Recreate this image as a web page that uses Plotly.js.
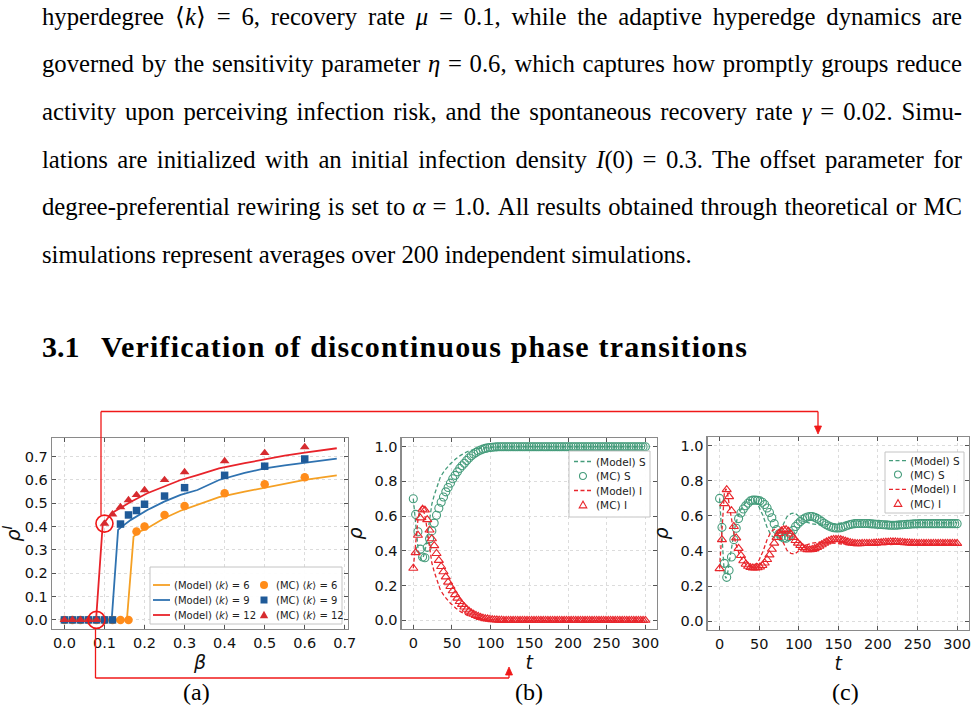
<!DOCTYPE html>
<html><head><meta charset="utf-8">
<script src="https://cdn.plot.ly/plotly-3.0.1.min.js"></script>
<style>
body{margin:0;background:#fff;}
#wrap{position:relative;width:976px;height:714px;overflow:hidden;background:#fff;}
#chart{position:absolute;left:0;top:0;width:976px;height:714px;}
.ln{position:absolute;left:42px;font-family:"Liberation Serif",serif;font-size:22px;line-height:30px;white-space:nowrap;color:#000;}
.hd{position:absolute;font-family:"Liberation Serif",serif;font-weight:bold;font-size:30px;line-height:36px;white-space:nowrap;color:#000;}
</style></head><body>
<div id="wrap">
<div id="chart"></div>
<div class="ln j" style="top:2px"><span>hyperdegree ⟨<i>k</i>⟩ = 6, recovery rate <i>μ</i> = 0.1, while the adaptive hyperedge dynamics are</span></div>
<div class="ln j" style="top:49px"><span>governed by the sensitivity parameter <i>η</i> = 0.6, which captures how promptly groups reduce</span></div>
<div class="ln j" style="top:97px"><span>activity upon perceiving infection risk, and the spontaneous recovery rate <i>γ</i> = 0.02. Simu-</span></div>
<div class="ln j" style="top:145px"><span>lations are initialized with an initial infection density <i>I</i>(0) = 0.3. The offset parameter for</span></div>
<div class="ln j" style="top:192px"><span>degree-preferential rewiring is set to <i>α</i> = 1.0. All results obtained through theoretical or MC</span></div>
<div class="ln" id="lastline" style="top:240px"><span>simulations represent averages over 200 independent simulations.</span></div>
<div class="hd" style="top:329px;left:42px"><span>3.1</span></div>
<div class="hd" id="headtxt" style="top:329px;left:101px"><span>Verification of discontinuous phase transitions</span></div>
</div>
<script>
// ---------- Panel (a) data ----------
const betaModel6  = [0, 0.156, 0.1726, 0.178, 0.19, 0.207, 0.249, 0.29, 0.332, 0.386, 0.45, 0.5, 0.55, 0.6, 0.64, 0.68];
const rhoModel6   = [0, 0, 0.357, 0.364, 0.38, 0.393, 0.436, 0.468, 0.493, 0.526, 0.55, 0.567, 0.584, 0.60, 0.61, 0.62];
const betaModel9  = [0, 0.118, 0.134, 0.141, 0.166, 0.207, 0.249, 0.29, 0.332, 0.386, 0.45, 0.5, 0.55, 0.6, 0.64, 0.68];
const rhoModel9   = [0, 0, 0.386, 0.397, 0.429, 0.471, 0.507, 0.536, 0.557, 0.60, 0.63, 0.65, 0.663, 0.675, 0.683, 0.692];
const betaModel12 = [0, 0.079, 0.0955, 0.108, 0.124, 0.166, 0.207, 0.249, 0.29, 0.332, 0.386, 0.45, 0.5, 0.55, 0.6, 0.64, 0.68];
const rhoModel12  = [0, 0, 0.407, 0.436, 0.464, 0.507, 0.543, 0.571, 0.60, 0.621, 0.65, 0.672, 0.689, 0.704, 0.717, 0.727, 0.736];
const betaMC   = [0, 0.02, 0.04, 0.06, 0.08, 0.1, 0.12, 0.14, 0.16, 0.18, 0.2, 0.25, 0.3, 0.4, 0.5, 0.6];
const rhoMC6   = [0, 0, 0, 0, 0, 0, 0, 0, 0, 0.379, 0.40, 0.45, 0.488, 0.543, 0.582, 0.612];
const rhoMC9   = [0, 0, 0, 0, 0, 0, 0, 0.411, 0.45, 0.469, 0.496, 0.531, 0.567, 0.62, 0.659, 0.69];
const rhoMC12  = [0, 0, 0, 0, 0, 0.413, 0.453, 0.484, 0.514, 0.536, 0.557, 0.60, 0.634, 0.681, 0.716, 0.741];
const highlightBeta = [0.1, 0.08];
const highlightRho  = [0.413, 0];
const legendA = ['(Model) ⟨<i>k</i>⟩ = 6', '(Model) ⟨<i>k</i>⟩ = 9', '(Model) ⟨<i>k</i>⟩ = 12',
                 '(MC) ⟨<i>k</i>⟩ = 6', '(MC) ⟨<i>k</i>⟩ = 9', '(MC) ⟨<i>k</i>⟩ = 12'];
const legendBC = ['(Model) S', '(MC) S', '(Model) I', '(MC) I'];
const captions = ['(a)', '(b)', '(c)'];

// ---------- Time axis of MC samples (panels b, c) ----------
const tMC = [0,3,6,9,12,15,18,21,24,27,30,33,36,39,42,45,48,51,54,57,60,63,66,69,72,75,78,81,84,87,90,93,96,99,
  102,105,108,111,114,117,120,123,126,129,132,135,138,141,144,147,150,153,156,159,162,165,168,171,174,177,180,183,186,189,192,195,198,
  201,204,207,210,213,216,219,222,225,228,231,234,237,240,243,246,249,252,255,258,261,264,267,270,273,276,279,282,285,288,291,294,297,300];

// ---------- Panel (b) data ----------
const sMC_b = [0.70,0.61,0.51,0.41,0.365,0.36,0.42,0.47,0.515,0.56,0.605,0.645,0.68,0.71,0.74,0.765,0.79,0.815,0.835,0.855,
  0.875,0.89,0.905,0.92,0.935,0.948,0.958,0.967,0.975,0.981,0.986,0.99,0.993,0.995,0.997,0.998,0.999,
  1,1,1,1,1,1,1,1,1,1,1,1,1,1,1,1,1,1,1,1,1,1,1,1,1,1,1,1,1,1,1,1,1,1,1,1,1,1,1,1,1,1,1,1,1,1,1,1,1,1,1,1,1,1,1,1,1,1,1,1,1,1,1,1];
const iMC_b = [0.30,0.39,0.49,0.59,0.64,0.635,0.58,0.52,0.47,0.43,0.385,0.345,0.31,0.28,0.25,0.22,0.195,0.17,0.148,0.128,
  0.108,0.092,0.077,0.064,0.053,0.043,0.035,0.028,0.022,0.017,0.013,0.010,0.008,0.006,0.004,0.003,0.002,0.001,0.001,
  0,0,0,0,0,0,0,0,0,0,0,0,0,0,0,0,0,0,0,0,0,0,0,0,0,0,0,0,0,0,0,0,0,0,0,0,0,0,0,0,0,0,0,0,0,0,0,0,0,0,0,0,0,0,0,0,0,0,0,0,0,0];
const tModel_b = [0,2,4,6,8,10,12,14,16,18,20,22,24,27,31,35,40,48,55,61,70,80,90,100,110,120,200,300];
const sModel_b = [0.70,0.60,0.50,0.42,0.37,0.35,0.355,0.38,0.42,0.48,0.55,0.62,0.67,0.72,0.78,0.825,0.86,0.902,0.93,0.95,0.972,0.986,0.993,0.997,0.999,1.0,1.0,1.0];
const iModel_b = [0.30,0.40,0.50,0.58,0.63,0.65,0.645,0.62,0.58,0.52,0.45,0.38,0.33,0.28,0.22,0.175,0.14,0.098,0.07,0.05,0.028,0.014,0.007,0.003,0.001,0,0,0];

// ---------- Panel (c) data ----------
const sMC_c = [0.70,0.535,0.33,0.25,0.29,0.366,0.465,0.53,0.585,0.617,0.64,0.658,0.673,0.686,0.69,0.69,0.689,0.686,0.678,0.665,
  0.645,0.62,0.59,0.556,0.522,0.498,0.482,0.474,0.473,0.482,0.497,0.518,0.54,0.555,0.568,0.58,0.588,0.594,0.597,0.597,
  0.593,0.586,0.578,0.568,0.558,0.55,0.543,0.537,0.533,0.531,0.531,0.533,0.537,0.542,0.547,0.551,0.554,0.556,0.557,0.557,
  0.557,0.557,0.557,0.556,0.555,0.554,0.553,0.552,0.551,0.55,0.549,0.548,0.547,0.547,0.547,0.548,0.549,0.55,0.551,0.552,
  0.553,0.554,0.555,0.555,0.556,0.556,0.556,0.556,0.556,0.556,0.556,0.556,0.556,0.556,0.556,0.556,0.556,0.556,0.556,0.556,0.556];
const iMC_c = [0.30,0.465,0.67,0.75,0.71,0.63,0.54,0.475,0.415,0.375,0.345,0.325,0.313,0.306,0.304,0.304,0.305,0.309,0.318,0.332,
  0.352,0.378,0.41,0.445,0.478,0.50,0.515,0.522,0.522,0.513,0.497,0.478,0.46,0.445,0.432,0.42,0.412,0.408,0.407,0.409,
  0.414,0.42,0.428,0.436,0.445,0.452,0.458,0.463,0.466,0.467,0.467,0.465,0.461,0.457,0.452,0.448,0.445,0.443,0.442,0.442,
  0.443,0.443,0.443,0.443,0.444,0.445,0.446,0.447,0.448,0.449,0.45,0.451,0.452,0.452,0.452,0.451,0.45,0.449,0.448,0.447,
  0.446,0.445,0.445,0.444,0.444,0.444,0.444,0.444,0.444,0.444,0.444,0.444,0.444,0.444,0.444,0.444,0.444,0.444,0.444,0.444,0.444];
const tModel_c = [0,2,4,6,8,10,13,16,20,25,30,35,40,45,50,55,60,65,70,75,80,85,90,95,100,105,110,117,125,134,142,150,160,172,185,200,220,240,260,280,300];
const sModel_c = [0.70,0.55,0.38,0.27,0.245,0.27,0.36,0.45,0.55,0.62,0.66,0.685,0.692,0.68,0.65,0.60,0.535,0.49,0.474,0.50,
  0.55,0.595,0.613,0.617,0.598,0.58,0.565,0.555,0.55,0.549,0.553,0.56,0.566,0.569,0.566,0.563,0.562,0.562,0.562,0.562,0.562];
const iModel_c = [0.30,0.45,0.62,0.73,0.755,0.73,0.64,0.55,0.45,0.38,0.34,0.315,0.308,0.32,0.35,0.40,0.465,0.51,0.526,0.50,
  0.45,0.405,0.387,0.383,0.402,0.42,0.435,0.445,0.45,0.451,0.447,0.44,0.434,0.431,0.434,0.437,0.438,0.438,0.438,0.438,0.438];

// ---------- styles ----------
const W = 976, H = 714;
const px = x => x / W, py = y => 1 - y / H;
const C6L = '#f5a024', C9L = '#2f72b0', C12L = '#e8232a';
const C6M = '#ff8c1a', C9M = '#1f5a98', C12M = '#d62b2f';
const CS = '#459c7b', CI = '#e8262c', RED = '#f01818';
const SANS = 'DejaVu Sans', SERIF = 'Liberation Serif';

const traces = [
  {x: betaModel6, y: rhoModel6, mode: 'lines', line: {color: C6L, width: 1.8}, xaxis: 'x', yaxis: 'y'},
  {x: betaModel9, y: rhoModel9, mode: 'lines', line: {color: C9L, width: 1.8}, xaxis: 'x', yaxis: 'y'},
  {x: betaModel12, y: rhoModel12, mode: 'lines', line: {color: C12L, width: 1.8}, xaxis: 'x', yaxis: 'y'},
  {x: betaMC, y: rhoMC6, mode: 'markers', marker: {symbol: 'circle', size: 8.5, color: C6M}, xaxis: 'x', yaxis: 'y'},
  {x: betaMC, y: rhoMC9, mode: 'markers', marker: {symbol: 'square', size: 7.5, color: C9M}, xaxis: 'x', yaxis: 'y'},
  {x: betaMC, y: rhoMC12, mode: 'markers', marker: {symbol: 'triangle-up', size: 8.5, color: C12M}, xaxis: 'x', yaxis: 'y'},
  {x: highlightBeta, y: highlightRho, mode: 'markers', cliponaxis: false,
   marker: {symbol: 'circle-open', size: 17, color: RED, line: {width: 1.6, color: RED}}, xaxis: 'x', yaxis: 'y'},

  {x: tModel_b, y: sModel_b, mode: 'lines', line: {color: CS, width: 1.3, dash: '4px,2.5px'}, xaxis: 'x2', yaxis: 'y2'},
  {x: tMC, y: sMC_b, mode: 'markers', marker: {symbol: 'circle-open', size: 8, color: CS, line: {width: 1.1, color: CS}}, xaxis: 'x2', yaxis: 'y2'},
  {x: tModel_b, y: iModel_b, mode: 'lines', line: {color: CI, width: 1.3, dash: '4px,2.5px'}, xaxis: 'x2', yaxis: 'y2'},
  {x: tMC, y: iMC_b, mode: 'markers', marker: {symbol: 'triangle-up-open', size: 8, color: CI, line: {width: 1.1, color: CI}}, xaxis: 'x2', yaxis: 'y2'},

  {x: tModel_c, y: sModel_c, mode: 'lines', line: {color: CS, width: 1.3, dash: '4px,2.5px'}, xaxis: 'x3', yaxis: 'y3'},
  {x: tMC, y: sMC_c, mode: 'markers', marker: {symbol: 'circle-open', size: 8, color: CS, line: {width: 1.1, color: CS}}, xaxis: 'x3', yaxis: 'y3'},
  {x: tModel_c, y: iModel_c, mode: 'lines', line: {color: CI, width: 1.3, dash: '4px,2.5px'}, xaxis: 'x3', yaxis: 'y3'},
  {x: tMC, y: iMC_c, mode: 'markers', marker: {symbol: 'triangle-up-open', size: 8, color: CI, line: {width: 1.1, color: CI}}, xaxis: 'x3', yaxis: 'y3'}
];
traces.forEach(t => { t.showlegend = false; t.hoverinfo = 'skip'; });

function axis(extra) {
  return Object.assign({
    showline: true, mirror: 'ticks', linecolor: '#8a8a8a', linewidth: 1.3,
    ticks: 'inside', ticklen: 4, tickwidth: 1, tickcolor: '#555',
    showgrid: true, gridcolor: '#dcdcdc', griddash: 'dot', gridwidth: 1,
    zeroline: false, tickfont: {family: SANS, size: 14.5, color: '#111'}, fixedrange: true
  }, extra);
}
const titleFont = {family: SANS, size: 19, color: '#111'};

const layout = {
  width: W, height: H, margin: {l: 0, r: 0, t: 0, b: 0},
  paper_bgcolor: 'rgba(0,0,0,0)', plot_bgcolor: '#fff', showlegend: false,
  xaxis:  axis({domain: [px(52), px(348)], range: [-0.031, 0.708], dtick: 0.1, tick0: 0, tickformat: '.1f', anchor: 'y',
                title: {text: '<i>β</i>', font: titleFont, standoff: 0}}),
  yaxis:  axis({domain: [py(629), py(438)], range: [-0.039, 0.78], dtick: 0.1, tick0: 0, tickformat: '.1f', anchor: 'x',
                title: {text: '<i>ρ</i><sup><i>I</i></sup>', font: titleFont, standoff: 3}}),
  xaxis2: axis({domain: [px(401.7), px(657)], range: [-15, 315], dtick: 50, tick0: 0, anchor: 'y2',
                title: {text: '<i>t</i>', font: titleFont, standoff: 0}}),
  yaxis2: axis({domain: [py(629), py(438)], range: [-0.05, 1.05], dtick: 0.2, tick0: 0, tickformat: '.1f', anchor: 'x2',
                title: {text: '<i>ρ</i>', font: titleFont, standoff: 6}}),
  xaxis3: axis({domain: [px(707.7), px(969)], range: [-15, 315], dtick: 50, tick0: 0, anchor: 'y3',
                title: {text: '<i>t</i>', font: titleFont, standoff: 0}}),
  yaxis3: axis({domain: [py(630), py(437)], range: [-0.05, 1.05], dtick: 0.2, tick0: 0, tickformat: '.1f', anchor: 'x3',
                title: {text: '<i>ρ</i>', font: titleFont, standoff: 6}}),
  shapes: [], annotations: []
};

// legend helpers (paper coordinates from pixel positions)
function box(x0, y0, x1, y1) {
  layout.shapes.push({type: 'rect', xref: 'paper', yref: 'paper', x0: px(x0), x1: px(x1), y0: py(y1), y1: py(y0),
    fillcolor: 'rgba(255,255,255,0.92)', line: {color: '#c4c4c4', width: 1}, layer: 'above'});
}
function lineGlyph(x0, x1, y, color, dash) {
  layout.shapes.push({type: 'line', xref: 'paper', yref: 'paper', x0: px(x0), x1: px(x1), y0: py(y), y1: py(y),
    line: {color: color, width: dash ? 1.3 : 1.8, dash: dash ? '4px,2.5px' : 'solid'}, layer: 'above'});
}
function circleGlyph(x, y, r, color, filled) {
  layout.shapes.push({type: 'circle', xref: 'paper', yref: 'paper', x0: px(x - r), x1: px(x + r), y0: py(y + r), y1: py(y - r),
    fillcolor: filled ? color : 'rgba(0,0,0,0)', line: {color: color, width: filled ? 0 : 1.1}, layer: 'above'});
}
function squareGlyph(x, y, r, color) {
  layout.shapes.push({type: 'rect', xref: 'paper', yref: 'paper', x0: px(x - r), x1: px(x + r), y0: py(y + r), y1: py(y - r),
    fillcolor: color, line: {width: 0}, layer: 'above'});
}
function triGlyph(x, y, r, color, filled, down) {
  const s = down ? -1 : 1;
  const p = `M${px(x - r)},${py(y + s * r * 0.75)} L${px(x + r)},${py(y + s * r * 0.75)} L${px(x)},${py(y - s * r)} Z`;
  layout.shapes.push({type: 'path', xref: 'paper', yref: 'paper', path: p,
    fillcolor: filled ? color : 'rgba(0,0,0,0)', line: {color: color, width: filled ? 0 : 1.1}, layer: 'above'});
}
function label(x, y, text, size) {
  layout.annotations.push({xref: 'paper', yref: 'paper', x: px(x), y: py(y), xanchor: 'left', yanchor: 'middle',
    text: text, showarrow: false, font: {family: SANS, size: size, color: '#222'}});
}

// legend (a)
box(150, 567, 342, 624);
[[585, C6L], [600, C9L], [615, C12L]].forEach((r, i) => { lineGlyph(153, 170, r[0], r[1], false); label(172, r[0], legendA[i], 10); });
circleGlyph(264, 585, 4, C6M, true);
squareGlyph(264, 600, 3.5, C9M);
triGlyph(264, 615, 4.2, C12M, true);
[585, 600, 615].forEach((y, i) => label(274, y, legendA[i + 3], 10));

// legend (b)
box(569, 451, 650, 517);
lineGlyph(574, 592, 461.5, CS, true); circleGlyph(583, 476, 3.5, CS, false);
lineGlyph(574, 592, 490.5, CI, true); triGlyph(583, 505, 3.8, CI, false);
[461.5, 476, 490.5, 505].forEach((y, i) => label(594, y, legendBC[i], 10.5));

// legend (c)
box(885, 452, 964, 513);
lineGlyph(889, 906, 460.7, CS, true); circleGlyph(898, 474.5, 3.5, CS, false);
lineGlyph(889, 906, 489.3, CI, true); triGlyph(898, 503.5, 3.8, CI, false);
[460.7, 474.5, 489.3, 503.5].forEach((y, i) => label(908, y, legendBC[i], 10.5));

// connectors with arrow heads
function seg(x0, y0, x1, y1) {
  layout.shapes.push({type: 'line', xref: 'paper', yref: 'paper', x0: px(x0), y0: py(y0), x1: px(x1), y1: py(y1),
    line: {color: RED, width: 1.3}, layer: 'above'});
}
function head(x, yTip, up) {
  const d = up ? 8 : -8;
  const p = `M${px(x - 3.5)},${py(yTip + d)} L${px(x + 3.5)},${py(yTip + d)} L${px(x)},${py(yTip)} Z`;
  layout.shapes.push({type: 'path', xref: 'paper', yref: 'paper', path: p, fillcolor: RED, line: {color: RED, width: 0.8}, layer: 'above'});
}
seg(101, 515, 101, 411.5); seg(101, 411.5, 818, 411.5); seg(818, 411.5, 818, 428); head(818, 434, false);
seg(95.5, 628.5, 95.5, 678); seg(95.5, 678, 509, 678); seg(509, 678, 509, 673); head(509, 667, true);

// captions
[[196, captions[0]], [529, captions[1]], [845, captions[2]]].forEach(c => {
  layout.annotations.push({xref: 'paper', yref: 'paper', x: px(c[0]), y: py(692), xanchor: 'center', yanchor: 'middle',
    text: c[1], showarrow: false, font: {family: SERIF, size: 24, color: '#000'}});
});

Plotly.newPlot('chart', traces, layout, {displayModeBar: false, staticPlot: true});

// paragraph: scale font so the free last line has its natural width, then justify the others
(function () {
  const last = document.querySelector('#lastline > span');
  const w0 = last.getBoundingClientRect().width;
  const fs = 22 * 650 / w0;
  document.querySelectorAll('.ln').forEach(d => { d.style.fontSize = fs + 'px'; });
  document.querySelectorAll('.j > span').forEach(s => {
    const w = s.getBoundingClientRect().width;
    const n = (s.textContent.match(/ /g) || []).length;
    if (n > 0) s.style.wordSpacing = ((920 - w) / n) + 'px';
  });
  const h = document.querySelector('#headtxt > span');
  const hw = h.getBoundingClientRect().width;
  const nc = h.textContent.length;
  h.style.letterSpacing = ((647 - hw) / nc) + 'px';
})();
</script>
</body></html>
